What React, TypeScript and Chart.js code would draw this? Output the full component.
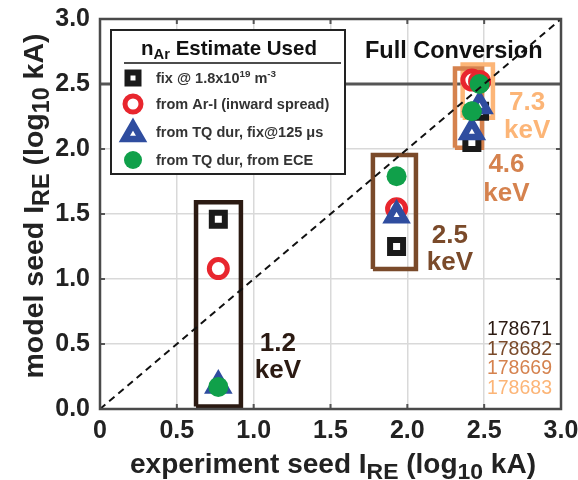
import React, { useEffect, useRef } from 'react';
import { Chart, registerables } from 'chart.js';

Chart.register(...registerables);

// ---------- data ----------
const shots = ['178671', '178682', '178669', '178683'];
const shotColors = ['#2b1a12', '#7a4a2a', '#d5824e', '#fcb577'];
const energyLabels = ['1.2', '2.5', '4.6', '7.3'];

const expSeed = [0.77, 1.93, 2.42, 2.47];
const modelFixDensity = [1.46, 1.25, 2.05, 2.29];
const modelArI = [1.08, 1.54, 2.53, 2.52];
const modelTqFix = [0.18, 1.49, 2.13, 2.33];
const modelTqEce = [0.17, 1.79, 2.29, 2.5];

const boxXMin = [0.625, 1.776, 2.31, 2.36];
const boxXMax = [0.917, 2.056, 2.486, 2.557];
const boxYMin = [0.02, 1.077, 2.01, 2.24];
const boxYMax = [1.59, 1.954, 2.62, 2.65];

const fullConversion = 2.5;
const xTickLabels = ['0', '0.5', '1.0', '1.5', '2.0', '2.5', '3.0'];
const yTickLabels = ['0.0', '0.5', '1.0', '1.5', '2.0', '2.5', '3.0'];

// ---------- style ----------
const FONT = '"Liberation Sans", Arial, Helvetica, sans-serif';
const SQUARE = '#1a1a1a';
const RED = '#e8262e';
const BLUE = '#2f4d9f';
const GREEN = '#10a04a';

type Part = { t: string; sub?: boolean; sup?: boolean };

function drawRich(
  ctx: CanvasRenderingContext2D,
  parts: Part[],
  x: number,
  y: number,
  size: number,
  color: string,
  align: 'left' | 'center' | 'right',
  weight = 'bold',
  small = 0.72
) {
  const setFont = (p: Part) => {
    ctx.font = `${weight} ${p.sub || p.sup ? size * small : size}px ${FONT}`;
  };
  let total = 0;
  for (const p of parts) {
    setFont(p);
    total += ctx.measureText(p.t).width;
  }
  let cx = align === 'center' ? x - total / 2 : align === 'right' ? x - total : x;
  ctx.fillStyle = color;
  ctx.textAlign = 'left';
  ctx.textBaseline = 'alphabetic';
  for (const p of parts) {
    setFont(p);
    const w = ctx.measureText(p.t).width;
    const dy = p.sub ? size * 0.2 : p.sup ? -size * 0.38 : 0;
    ctx.fillText(p.t, cx, y + dy);
    cx += w;
  }
}

function drawMarker(ctx: CanvasRenderingContext2D, kind: string, x: number, y: number) {
  ctx.save();
  ctx.lineJoin = 'miter';
  if (kind === 'rect') {
    const s = 11;
    ctx.fillStyle = '#fff';
    ctx.strokeStyle = SQUARE;
    ctx.lineWidth = 6;
    ctx.beginPath();
    ctx.rect(x - s / 2, y - s / 2, s, s);
    ctx.fill();
    ctx.stroke();
  } else if (kind === 'circle') {
    ctx.fillStyle = '#fff';
    ctx.strokeStyle = RED;
    ctx.lineWidth = 5;
    ctx.beginPath();
    ctx.arc(x, y, 8, 0, Math.PI * 2);
    ctx.fill();
    ctx.stroke();
  } else if (kind === 'triangle') {
    const r = 10;
    ctx.fillStyle = '#fff';
    ctx.strokeStyle = BLUE;
    ctx.lineWidth = 6.5;
    ctx.beginPath();
    for (let k = 0; k < 3; k++) {
      const a = (k * 2 * Math.PI) / 3;
      const px = x + Math.sin(a) * r;
      const py = y - Math.cos(a) * r + 2;
      if (k === 0) ctx.moveTo(px, py);
      else ctx.lineTo(px, py);
    }
    ctx.closePath();
    ctx.fill();
    ctx.stroke();
  } else {
    ctx.fillStyle = GREEN;
    ctx.beginPath();
    ctx.arc(x, y, 9, 0, Math.PI * 2);
    ctx.fill();
  }
  ctx.restore();
}

const framePlugin = {
  id: 'frame',
  afterDatasetsDraw(chart: any) {
    const { ctx, chartArea: a, scales } = chart;
    ctx.save();
    // inner ticks
    ctx.strokeStyle = '#555';
    ctx.lineWidth = 2;
    const tl = 5;
    scales.x.ticks.forEach((t: any) => {
      const px = scales.x.getPixelForValue(t.value);
      ctx.beginPath();
      ctx.moveTo(px, a.bottom);
      ctx.lineTo(px, a.bottom - tl);
      ctx.moveTo(px, a.top);
      ctx.lineTo(px, a.top + tl);
      ctx.stroke();
    });
    scales.y.ticks.forEach((t: any) => {
      const py = scales.y.getPixelForValue(t.value);
      ctx.beginPath();
      ctx.moveTo(a.left, py);
      ctx.lineTo(a.left + tl, py);
      ctx.moveTo(a.right, py);
      ctx.lineTo(a.right - tl, py);
      ctx.stroke();
    });
    // frame
    ctx.strokeStyle = '#4a4a4a';
    ctx.lineWidth = 2.5;
    ctx.strokeRect(a.left, a.top, a.right - a.left, a.bottom - a.top);
    ctx.restore();
  },
  afterDraw(chart: any) {
    const { ctx, chartArea: a, scales } = chart;
    const X = (v: number) => scales.x.getPixelForValue(v);
    const Y = (v: number) => scales.y.getPixelForValue(v);
    ctx.save();

    // axis titles
    drawRich(
      ctx,
      [{ t: 'experiment seed I' }, { t: 'RE', sub: true }, { t: ' (log' }, { t: '10', sub: true }, { t: ' kA)' }],
      333,
      473,
      28,
      '#222',
      'center',
      'bold',
      0.82
    );
    ctx.save();
    ctx.translate(43, 206);
    ctx.rotate(-Math.PI / 2);
    drawRich(
      ctx,
      [{ t: 'model seed I' }, { t: 'RE', sub: true }, { t: ' (log' }, { t: '10', sub: true }, { t: ' kA)' }],
      0,
      0,
      28.5,
      '#222',
      'center',
      'bold',
      0.82
    );
    ctx.restore();

    // Full Conversion
    drawRich(ctx, [{ t: 'Full Conversion' }], a.left + 265, a.top + 39, 23.5, '#111', 'left');

    // energy labels
    const ePos = [
      [1.158, 0.45, 0.24],
      [2.277, 1.28, 1.07],
      [2.645, 1.82, 1.6],
      [2.78, 2.3, 2.085],
    ];
    ePos.forEach((p, i) => {
      drawRich(ctx, [{ t: energyLabels[i] }], X(p[0]), Y(p[1]), 26, shotColors[i], 'center');
      drawRich(ctx, [{ t: 'keV' }], X(p[0]), Y(p[2]), 26, shotColors[i], 'center');
    });

    // shot ids
    shots.forEach((s, i) => {
      drawRich(ctx, [{ t: s }], a.right - 9, 335 + i * 19.5, 19.5, shotColors[i], 'right', 'normal');
    });

    // legend
    const lx = a.left + 11;
    const ly = a.top + 11;
    const lw = 234;
    const lh = 144;
    ctx.fillStyle = '#fff';
    ctx.fillRect(lx, ly, lw, lh);
    ctx.strokeStyle = '#222';
    ctx.lineWidth = 2;
    ctx.strokeRect(lx, ly, lw, lh);
    drawRich(
      ctx,
      [{ t: 'n' }, { t: 'Ar', sub: true }, { t: ' Estimate Used' }],
      lx + 118,
      ly + 25,
      20.5,
      '#111',
      'center',
      'bold',
      0.72
    );
    ctx.strokeStyle = '#111';
    ctx.lineWidth = 1.5;
    ctx.beginPath();
    ctx.moveTo(lx + 13, ly + 33);
    ctx.lineTo(lx + lw - 4, ly + 33);
    ctx.stroke();

    const entries: { kind: string; parts: Part[] }[] = [
      { kind: 'rect', parts: [{ t: 'fix @ 1.8x10' }, { t: '19', sup: true }, { t: ' m' }, { t: '-3', sup: true }] },
      { kind: 'circle', parts: [{ t: 'from Ar-I (inward spread)' }] },
      { kind: 'triangle', parts: [{ t: 'from TQ dur, fix@125 \u03bcs' }] },
      { kind: 'green', parts: [{ t: 'from TQ dur, from ECE' }] },
    ];
    const rows = [48, 74, 102, 130];
    entries.forEach((e, i) => {
      const cy = ly + rows[i];
      drawMarker(ctx, e.kind, lx + 22, cy);
      drawRich(ctx, e.parts, lx + 45, cy + 5, 14.5, '#333', 'left', 'bold', 0.68);
    });

    ctx.restore();
  },
};

export default function App() {
  const ref = useRef<HTMLCanvasElement | null>(null);

  useEffect(() => {
    if (!ref.current) return;
    const pts = (ys: number[]) => expSeed.map((x, i) => ({ x, y: ys[i] }));
    const boxes = shots.map((s, i) => ({
      type: 'line' as const,
      label: `box ${s}`,
      data: [
        { x: boxXMin[i], y: boxYMin[i] },
        { x: boxXMax[i], y: boxYMin[i] },
        { x: boxXMax[i], y: boxYMax[i] },
        { x: boxXMin[i], y: boxYMax[i] },
        { x: boxXMin[i], y: boxYMin[i] },
      ],
      borderColor: shotColors[i],
      borderWidth: 4.5,
      borderJoinStyle: 'miter' as const,
      pointRadius: 0,
      tension: 0,
      fill: false,
      order: 6,
      clip: 10,
    }));

    const chart = new Chart(ref.current, {
      type: 'scatter',
      data: {
        datasets: [
          {
            type: 'line',
            label: 'Full Conversion',
            data: [
              { x: 0, y: fullConversion },
              { x: 3, y: fullConversion },
            ],
            borderColor: '#555',
            borderWidth: 3,
            pointRadius: 0,
            order: 8,
          } as any,
          ...boxes,
          {
            label: 'fix @ 1.8x10^19 m^-3',
            data: pts(modelFixDensity),
            pointStyle: 'rect',
            pointRadius: 9.2,
            borderWidth: 6,
            borderColor: SQUARE,
            backgroundColor: '#fff',
            order: 4,
          },
          {
            label: 'from Ar-I (inward spread)',
            data: pts(modelArI),
            pointStyle: 'circle',
            pointRadius: 9,
            borderWidth: 5,
            borderColor: RED,
            backgroundColor: '#fff',
            order: 3,
          },
          {
            label: 'from TQ dur, fix@125 \u03bcs',
            data: pts(modelTqFix),
            pointStyle: 'triangle',
            pointRadius: 10,
            borderWidth: 6.5,
            borderColor: BLUE,
            backgroundColor: '#fff',
            order: 2,
          },
          {
            label: 'from TQ dur, from ECE',
            data: pts(modelTqEce),
            pointStyle: 'circle',
            pointRadius: 10,
            borderWidth: 0,
            borderColor: GREEN,
            backgroundColor: GREEN,
            order: 1,
          },
          {
            type: 'line',
            label: 'y = x',
            data: [
              { x: 0, y: 0 },
              { x: 3, y: 3 },
            ],
            borderColor: '#111',
            borderWidth: 2,
            borderDash: [7, 5],
            pointRadius: 0,
            order: 0,
          } as any,
        ],
      },
      options: {
        animation: false,
        responsive: false,
        layout: { padding: { top: 19, right: 17, left: 0, bottom: 0 } },
        plugins: { legend: { display: false }, tooltip: { enabled: false } },
        scales: {
          x: {
            type: 'linear',
            min: 0,
            max: 3,
            ticks: {
              stepSize: 0.5,
              padding: 7,
              color: '#222',
              font: { family: FONT, size: 25, weight: 'bold' },
              callback: (_v: any, i: number) => xTickLabels[i],
            },
            grid: { color: '#d9d9d9', lineWidth: 1.5, drawTicks: false },
            border: { display: false },
            afterFit: (s: any) => {
              s.height = 71;
              s.paddingLeft = 0;
              s.paddingRight = 0;
            },
          },
          y: {
            type: 'linear',
            min: 0,
            max: 3,
            ticks: {
              stepSize: 0.5,
              padding: 10,
              color: '#222',
              font: { family: FONT, size: 25, weight: 'bold' },
              callback: (_v: any, i: number) => yTickLabels[i],
            },
            grid: { color: '#d9d9d9', lineWidth: 1.5, drawTicks: false },
            border: { display: false },
            afterFit: (s: any) => {
              s.width = 100;
              s.paddingTop = 0;
              s.paddingBottom = 0;
            },
          },
        },
      },
      plugins: [framePlugin],
    } as any);

    return () => chart.destroy();
  }, []);

  return (
    <div style={{ position: 'absolute', left: 0, top: 0, width: 578, height: 480, background: '#fff' }}>
      <canvas ref={ref} width={578} height={480} style={{ display: 'block' }} />
    </div>
  );
}
